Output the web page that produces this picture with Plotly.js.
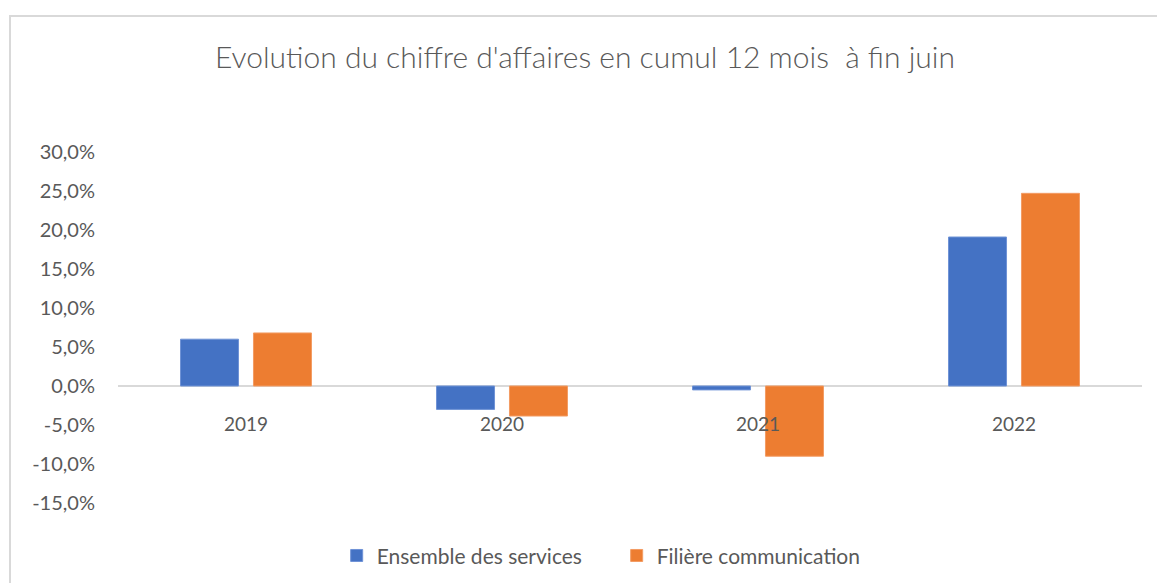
<!DOCTYPE html>
<html>
<head>
<meta charset="utf-8">
<script src="https://cdn.plot.ly/plotly-3.0.1.min.js"></script>
<style>
  html, body { margin: 0; padding: 0; background: #ffffff; }
  #frame { position: absolute; left: 9px; top: 15px; width: 1160px; height: 580px;
           border-left: 2px solid #d9d9d9; border-top: 2px solid #d9d9d9; }
  #chart { width: 1148px; height: 566px; }
</style>
</head>
<body>
<div id="frame"><div id="chart"></div></div>
<script>
const years = ["2019", "2020", "2021", "2022"];
const ensembleServices = [0.060, -0.030, -0.005, 0.191];
const filiereCommunication = [0.068, -0.0385, -0.090, 0.247];
const seriesNames = ["Ensemble des services", "Filière communication"];
const yTicks = [-0.15, -0.10, -0.05, 0, 0.05, 0.10, 0.15, 0.20, 0.25, 0.30];
const yTickText = ["-15,0%", "-10,0%", "-5,0%", "0,0%", "5,0%", "10,0%", "15,0%", "20,0%", "25,0%", "30,0%"];

const textColor = "#595959";
const fontFam = "Lato, 'Open Sans', sans-serif";

const traces = [
  { type: "bar", x: years, y: ensembleServices, name: seriesNames[0],
    marker: { color: "#4472C4", line: { color: "#6f93d6", width: 1 } } },
  { type: "bar", x: years, y: filiereCommunication, name: seriesNames[1],
    marker: { color: "#ED7D31", line: { color: "#f39c63", width: 1 } } }
];

const layout = {
  width: 1148, height: 566,
  paper_bgcolor: "#ffffff", plot_bgcolor: "#ffffff",
  separators: ", ",
  font: { family: fontFam, color: textColor, size: 17 },
  margin: { l: 107, r: 17, t: 135, b: 80 },
  title: { text: "Evolution du chiffre d'affaires en cumul 12 mois  à fin juin",
           font: { family: fontFam, size: 30, color: textColor, weight: 300 },
           x: 0.5, xref: "container", xanchor: "center", y: 0.928, yref: "container", yanchor: "middle" },
  barmode: "group", bargap: 0.43, bargroupgap: 0.205,
  xaxis: { type: "category", anchor: "free", position: 1/3, showline: false, showgrid: false,
           ticks: "outside", ticklen: 21, tickcolor: "rgba(0,0,0,0)",
           tickfont: { size: 19, color: textColor } },
  yaxis: { range: [-0.15, 0.30], tickmode: "array", tickvals: yTicks, ticktext: yTickText, showgrid: false,
           zeroline: true, zerolinecolor: "#d9d9d9", zerolinewidth: 2, showline: false,
           ticks: "outside", ticklen: 18, tickcolor: "rgba(0,0,0,0)",
           tickfont: { size: 20, color: textColor } },
  showlegend: true,
  legend: { orientation: "h", xref: "container", yref: "container", x: 0.5276, xanchor: "center",
            y: 0.048, yanchor: "middle", font: { size: 21, color: textColor },
            itemwidth: 30, entrywidth: 235, entrywidthmode: "pixels",
            tracegroupgap: 0, traceorder: "normal" }
};

Plotly.newPlot("chart", traces, layout, { displayModeBar: false, staticPlot: true });
</script>
</body>
</html>
